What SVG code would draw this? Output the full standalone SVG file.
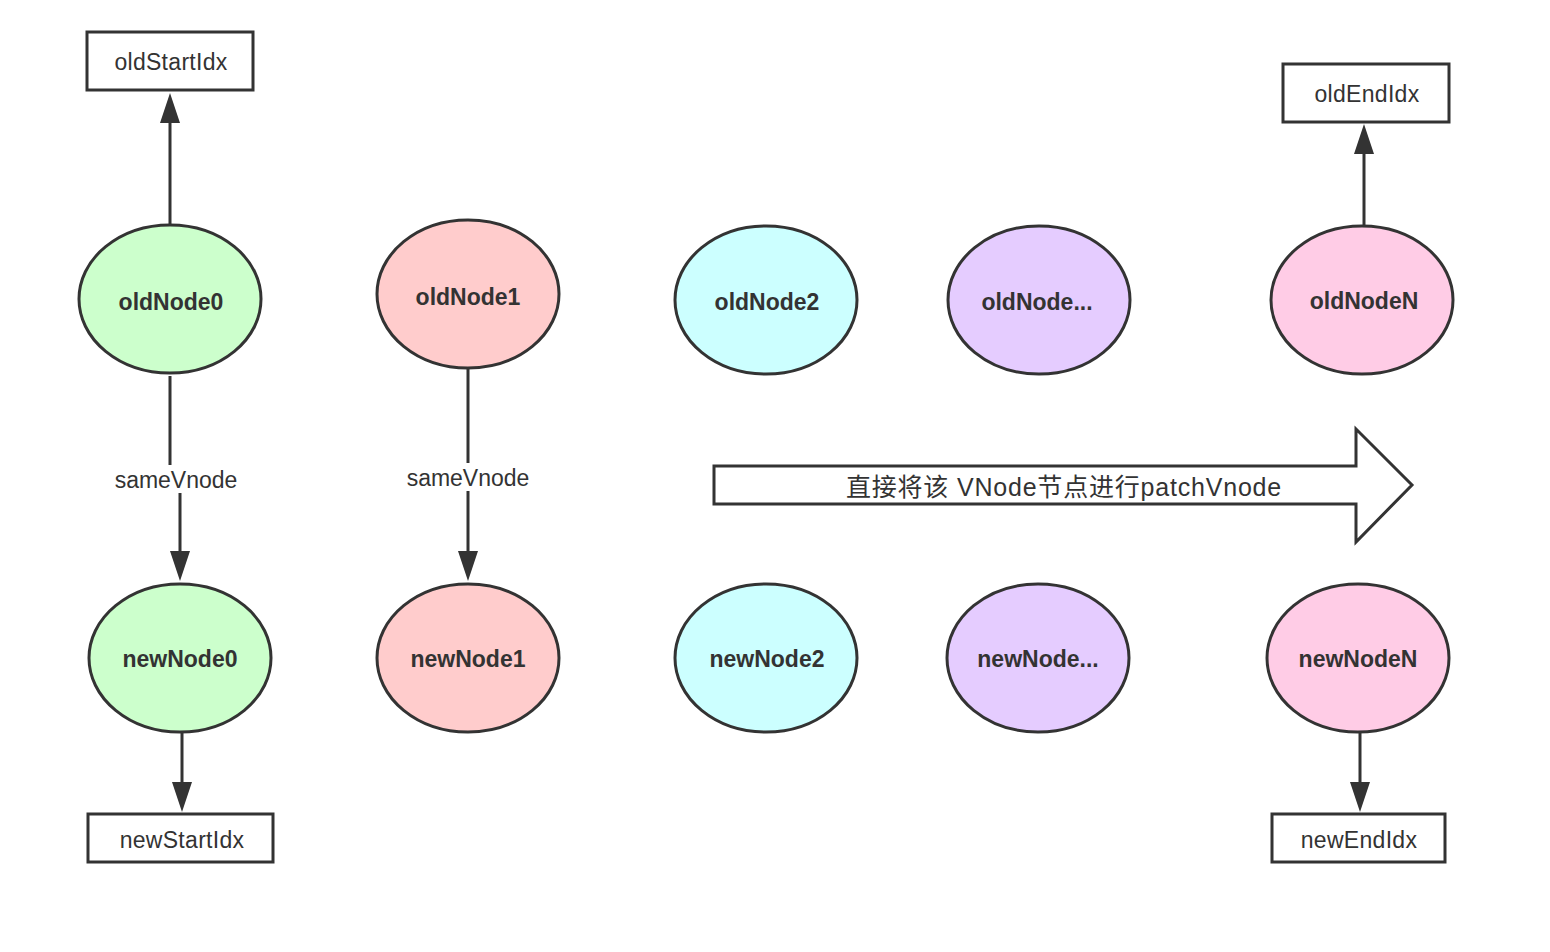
<svg xmlns="http://www.w3.org/2000/svg" width="1550" height="952" viewBox="0 0 1550 952">
<style>
  .bg { fill: #ffffff; }
  .node { stroke: #333333; stroke-width: 3; }
  .box { fill: #ffffff; stroke: #333333; stroke-width: 3; }
  .ntext { font-family: "Liberation Sans", Arial, sans-serif; font-weight: bold; font-size: 23px; fill: #333333; text-anchor: middle; }
  .btext { font-family: "Liberation Sans", Arial, sans-serif; font-size: 23px; fill: #333333; text-anchor: middle; letter-spacing: 0.3px; }
  .ltext { font-family: "Liberation Sans", Arial, sans-serif; font-size: 23px; fill: #333333; text-anchor: middle; }
  .edge { fill: none; stroke: #333333; stroke-width: 3; }
  .big { fill: #ffffff; stroke: #333333; stroke-width: 3; stroke-linejoin: miter; }
  .bigtext { font-family: "Liberation Sans", "Noto Sans CJK SC", sans-serif; font-size: 25px; fill: #333333; text-anchor: middle; letter-spacing: 0.8px; }
  .green { fill: #ccffcc; }
  .red { fill: #ffcccc; }
  .cyan { fill: #ccffff; }
  .purple { fill: #e5ccff; }
  .pink { fill: #ffcce6; }
</style>
<defs>
  <marker id="arrow" markerUnits="userSpaceOnUse" markerWidth="31" markerHeight="22" refX="0" refY="11" orient="auto" overflow="visible">
    <path d="M0,1 L30,11 L0,21 z" fill="#333333"/>
  </marker>
</defs>
<rect class="bg" x="0" y="0" width="1550" height="952"/>

<g id="connectors">
  <path class="edge" d="M170,224 V123" marker-end="url(#arrow)"/>
  <path class="edge" d="M1364,225 V154" marker-end="url(#arrow)"/>
  <path class="edge" d="M170,376 V478 H180 V551" marker-end="url(#arrow)"/>
  <path class="edge" d="M468,369 V551" marker-end="url(#arrow)"/>
  <path class="edge" d="M182,733 V782" marker-end="url(#arrow)"/>
  <path class="edge" d="M1360,733 V782" marker-end="url(#arrow)"/>
  <rect x="108" y="465" width="136" height="28" fill="#ffffff"/>
  <text class="ltext" x="176" y="488">sameVnode</text>
  <rect x="400" y="463" width="136" height="28" fill="#ffffff"/>
  <text class="ltext" x="468" y="486">sameVnode</text>
</g>

<g id="oldStartIdx">
  <rect class="box" x="87" y="32" width="166" height="58"/>
  <text class="btext" x="171" y="70">oldStartIdx</text>
</g>
<g id="oldEndIdx">
  <rect class="box" x="1283" y="64" width="166" height="58"/>
  <text class="btext" x="1367" y="102">oldEndIdx</text>
</g>
<g id="newStartIdx">
  <rect class="box" x="88" y="814" width="185" height="48"/>
  <text class="btext" x="182" y="848">newStartIdx</text>
</g>
<g id="newEndIdx">
  <rect class="box" x="1272" y="814" width="173" height="48"/>
  <text class="btext" x="1359" y="848">newEndIdx</text>
</g>

<g id="oldNode0">
  <ellipse class="node green" cx="170" cy="299" rx="91" ry="74"/>
  <text class="ntext" x="171" y="310">oldNode0</text>
</g>
<g id="oldNode1">
  <ellipse class="node red" cx="468" cy="294" rx="91" ry="74"/>
  <text class="ntext" x="468" y="305">oldNode1</text>
</g>
<g id="oldNode2">
  <ellipse class="node cyan" cx="766" cy="300" rx="91" ry="74"/>
  <text class="ntext" x="767" y="310">oldNode2</text>
</g>
<g id="oldNodeEllipsis">
  <ellipse class="node purple" cx="1039" cy="300" rx="91" ry="74"/>
  <text class="ntext" x="1037" y="310">oldNode...</text>
</g>
<g id="oldNodeN">
  <ellipse class="node pink" cx="1362" cy="300" rx="91" ry="74"/>
  <text class="ntext" x="1364" y="309">oldNodeN</text>
</g>

<g id="newNode0">
  <ellipse class="node green" cx="180" cy="658" rx="91" ry="74"/>
  <text class="ntext" x="180" y="667">newNode0</text>
</g>
<g id="newNode1">
  <ellipse class="node red" cx="468" cy="658" rx="91" ry="74"/>
  <text class="ntext" x="468" y="667">newNode1</text>
</g>
<g id="newNode2">
  <ellipse class="node cyan" cx="766" cy="658" rx="91" ry="74"/>
  <text class="ntext" x="767" y="667">newNode2</text>
</g>
<g id="newNodeEllipsis">
  <ellipse class="node purple" cx="1038" cy="658" rx="91" ry="74"/>
  <text class="ntext" x="1038" y="667">newNode...</text>
</g>
<g id="newNodeN">
  <ellipse class="node pink" cx="1358" cy="658" rx="91" ry="74"/>
  <text class="ntext" x="1358" y="667">newNodeN</text>
</g>

<g id="patchArrow">
  <path class="big" d="M714,466 H1356 V429 L1412,485 L1356,542 V504 H714 Z"/>
  <text class="bigtext" x="1064" y="496">直接将该 VNode节点进行patchVnode</text>
</g>
</svg>
